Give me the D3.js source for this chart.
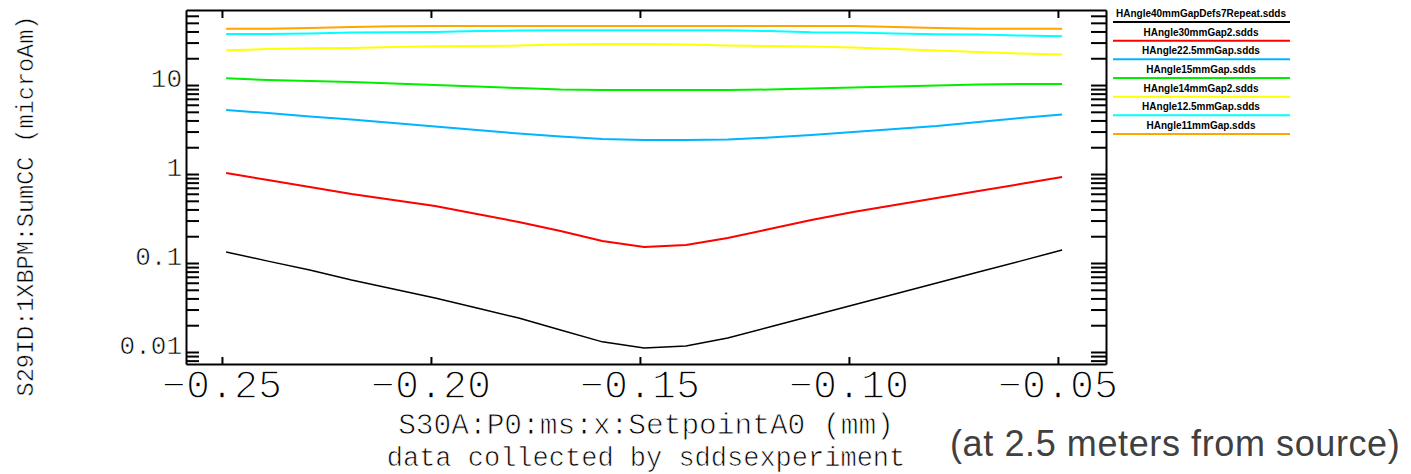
<!DOCTYPE html>
<html>
<head>
<meta charset="utf-8">
<script src="https://cdn.jsdelivr.net/npm/d3@7"></script>
<style>
  body { margin: 0; background: #fff; }
  svg { display: block; }
  .mono { font-family: "Liberation Mono", "DejaVu Sans Mono", monospace; fill: #000; stroke: #fff; }
  .axis path, .axis line { stroke: #000; stroke-width: 2; }
  .line { fill: none; }
</style>
</head>
<body>
<div id="main_view"></div>
<script>
// setpoint values (mm)
var xValues = [-0.249, -0.239, -0.229, -0.219, -0.209, -0.199, -0.189, -0.179, -0.169, -0.159, -0.149,
               -0.139, -0.129, -0.119, -0.109, -0.099, -0.089, -0.079, -0.069, -0.059, -0.049];

// current (microAm) for every file
var sBlack  = [0.133, 0.105, 0.0834, 0.0644, 0.0510, 0.0404, 0.0312, 0.0241, 0.0177, 0.0130, 0.0111,
               0.0117, 0.0144, 0.0191, 0.0254, 0.0337, 0.0449, 0.0596, 0.0792, 0.105, 0.140];
var sRed    = [1.026, 0.856, 0.714, 0.596, 0.511, 0.437, 0.355, 0.289, 0.229, 0.177, 0.151,
               0.159, 0.191, 0.241, 0.304, 0.374, 0.449, 0.537, 0.644, 0.772, 0.925];
var sBlue   = [5.24, 4.85, 4.43, 4.10, 3.74, 3.42, 3.12, 2.85, 2.64, 2.47, 2.41,
               2.41, 2.44, 2.57, 2.74, 2.96, 3.20, 3.46, 3.84, 4.26, 4.66];
var sGreen  = [11.89, 11.38, 11.09, 10.81, 10.39, 10.0, 9.62, 9.25, 8.90, 8.79, 8.79,
               8.79, 8.79, 8.90, 9.13, 9.37, 9.62, 9.87, 10.13, 10.26, 10.26];
var sYellow = [24.54, 25.38, 25.85, 26.05, 26.73, 27.22, 27.43, 27.79, 28.52, 28.89, 28.89,
               28.52, 27.79, 27.43, 27.08, 26.38, 25.38, 24.41, 23.48, 22.59, 22.01];
var sCyan   = [37.41, 37.41, 37.91, 38.90, 39.10, 39.41, 40.44, 40.96, 41.17, 41.17, 41.17,
               41.17, 41.17, 40.44, 39.10, 38.90, 37.91, 37.12, 36.93, 35.98, 35.25];
var sOrange = [42.92, 42.92, 43.69, 44.84, 45.66, 46.02, 46.02, 46.02, 46.02, 46.02, 46.02,
               46.02, 46.02, 46.02, 46.02, 46.02, 44.84, 43.69, 42.92, 42.92, 42.92];

var legendNames = ["HAngle40mmGapDefs7Repeat.sdds", "HAngle30mmGap2.sdds", "HAngle22.5mmGap.sdds",
                   "HAngle15mmGap.sdds", "HAngle14mmGap2.sdds", "HAngle12.5mmGap.sdds", "HAngle11mmGap.sdds"];
var seriesColors = ["#000000", "#ff0000", "#00b4ff", "#00ee00", "#ffff00", "#00ffff", "#ffa500"];
var allSeries = [sBlack, sRed, sBlue, sGreen, sYellow, sCyan, sOrange];

var xTicks = [-0.25, -0.20, -0.15, -0.10, -0.05];
var yTickLabels = [0.01, 0.1, 1, 10];

// set the dimensions of the frame
var W = 1411, H = 474;
var frame = {left: 186, right: 1106, top: 10, bottom: 364};

// set the scales
var xScale = d3.scaleLinear().domain([-0.2586, -0.0385]).range([frame.left, frame.right]);
var yScale = d3.scaleLog().domain([0.00733, 69.7]).range([frame.bottom, frame.top]);

var svg = d3.select("#main_view").append("svg")
    .attr("width", W)
    .attr("height", H);

// define the line
var line = d3.line()
    .x(function(d, i) { return xScale(xValues[i]); })
    .y(function(d) { return yScale(d); });

// draw lines, lowest first
allSeries.forEach(function(s, k) {
  svg.append("path")
      .datum(s)
      .attr("class", "line")
      .attr("stroke", seriesColors[k])
      .attr("stroke-width", k == 0 ? 1.5 : 2)
      .attr("d", line);
});

// frame: bottom + top x axes
svg.append("g")
    .attr("class", "axis")
    .attr("transform", "translate(0," + frame.bottom + ")")
    .call(d3.axisBottom(xScale).tickValues(xTicks).tickSizeInner(-7).tickSizeOuter(0).tickFormat(""));

svg.append("g")
    .attr("class", "axis")
    .attr("transform", "translate(0," + frame.top + ")")
    .call(d3.axisTop(xScale).tickValues(xTicks).tickSizeInner(-8).tickSizeOuter(0).tickFormat(""));

// left + right log axes, every minor tick
var yMinor = yScale.ticks();
svg.append("g")
    .attr("class", "axis")
    .attr("transform", "translate(" + frame.left + ",0)")
    .call(d3.axisLeft(yScale).tickValues(yMinor).tickSizeInner(-13).tickSizeOuter(0).tickFormat(""));

svg.append("g")
    .attr("class", "axis")
    .attr("transform", "translate(" + frame.right + ",0)")
    .call(d3.axisRight(yScale).tickValues(yMinor).tickSizeInner(-15).tickSizeOuter(0).tickFormat(""));

// tick labels (white stroke on top thins the glyphs like the vector font)
var fmtX = d3.format(".2f");
svg.selectAll(".xlab")
    .data(xTicks)
  .enter().append("text")
    .attr("class", "mono")
    .attr("x", function(d) { return xScale(d); })
    .attr("y", frame.bottom + 34)
    .attr("text-anchor", "middle")
    .style("font-size", "40px")
    .style("stroke-width", "1.4px")
    .text(function(d) { return fmtX(d); });

svg.selectAll(".ylab")
    .data(yTickLabels)
  .enter().append("text")
    .attr("class", "mono")
    .attr("x", frame.left - 4)
    .attr("y", function(d) { return yScale(d) + 2; })
    .attr("text-anchor", "end")
    .style("font-size", "26px")
    .style("stroke-width", "0.6px")
    .text(function(d) { return d; });

// axis titles
svg.append("text")
    .attr("class", "mono")
    .attr("x", (frame.left + frame.right) / 2)
    .attr("y", 434)
    .attr("text-anchor", "middle")
    .style("font-size", "29.5px")
    .style("stroke-width", "0.8px")
    .text("S30A:P0:ms:x:SetpointA0 (mm)");

svg.append("text")
    .attr("class", "mono")
    .attr("x", (frame.left + frame.right) / 2)
    .attr("y", 466)
    .attr("text-anchor", "middle")
    .style("font-size", "27px")
    .style("stroke-width", "0.7px")
    .text("data collected by sddsexperiment");

svg.append("text")
    .attr("class", "mono")
    .attr("transform", "translate(33,206) rotate(-90)")
    .attr("text-anchor", "middle")
    .style("font-size", "23.5px")
    .style("stroke-width", "0.5px")
    .text("S29ID:1XBPM:SumCC (microAm)");

svg.append("text")
    .attr("x", 950)
    .attr("y", 456)
    .style("font-family", "'Liberation Sans', Arial, sans-serif")
    .style("font-size", "36px")
    .style("letter-spacing", "0.6px")
    .style("fill", "#404040")
    .text("(at 2.5 meters from source)");

// legend
var legY = d3.scaleLinear().domain([0, 6]).range([22, 134]);
var legend = svg.selectAll(".legend")
    .data(legendNames)
  .enter().append("g")
    .attr("class", "legend");

legend.append("line")
    .attr("x1", 1113)
    .attr("x2", 1290)
    .attr("y1", function(d, i) { return legY(i); })
    .attr("y2", function(d, i) { return legY(i); })
    .attr("stroke", function(d, i) { return seriesColors[i]; })
    .attr("stroke-width", 2);

legend.append("text")
    .attr("x", 1201)
    .attr("y", function(d, i) { return legY(i) - 5; })
    .attr("text-anchor", "middle")
    .style("font-family", "'Liberation Sans', Arial, sans-serif")
    .style("font-size", "10px")
    .style("font-weight", "bold")
    .text(function(d) { return d; });
</script>
</body>
</html>
